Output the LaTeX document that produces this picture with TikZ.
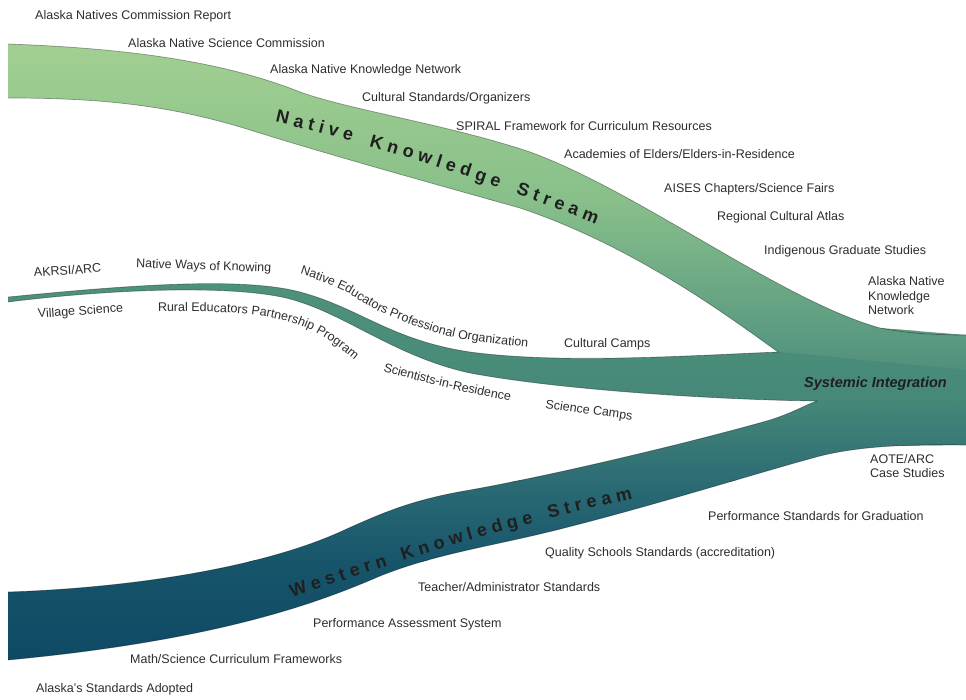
\documentclass[tikz,border=0pt]{standalone}
\usepackage{fontspec}
\setmainfont{Liberation Sans}
\usetikzlibrary{decorations.text,decorations.markings}

\definecolor{g1}{HTML}{A6D292}
\definecolor{g2}{HTML}{88BF8A}
\definecolor{g3}{HTML}{5D9C82}
\definecolor{g4}{HTML}{468878}
\definecolor{g5}{HTML}{2C6C74}
\definecolor{g6}{HTML}{17556B}
\definecolor{g7}{HTML}{0C4662}
\definecolor{m1}{HTML}{4E927C}
\definecolor{txt}{HTML}{2E2E2E}

\newcommand\lblfont{\fontsize{12.5}{14.5}\selectfont}
\newcommand\streamfillall{%
  \shade[top color=g1,bottom color=g2] (0,20) rectangle (966,201);
  \shade[top color=g2,bottom color=g3] (0,200) rectangle (966,331);
  \shade[top color=g3,bottom color=g4] (0,330) rectangle (966,401);
  \shade[top color=g4,bottom color=g5] (0,400) rectangle (966,481);
  \shade[top color=g5,bottom color=g6] (0,480) rectangle (966,561);
  \shade[top color=g6,bottom color=g7] (0,560) rectangle (966,690);
}

\def\pathNTop{(8,44) .. controls (120,48) and (220,60) .. (300,92) .. controls (350,110) and (450,125) .. (530,152) .. controls (640,192) and (780,300) .. (880,328) .. controls (910,334) and (940,335) .. (966,335)}
\def\pathNBot{(778,352) .. controls (720,310) and (630,245) .. (520,208) .. controls (420,180) and (330,155) .. (250,130) .. controls (170,105) and (100,98) .. (8,98)}
\def\pathMTop{(8,297) .. controls (120,286) and (240,276) .. (300,292) .. controls (360,308) and (390,340) .. (470,352) .. controls (560,364) and (680,356) .. (778,352)}
\def\pathMBot{(817,401) .. controls (720,400) and (560,390) .. (470,373) .. controls (400,358) and (350,318) .. (300,302) .. controls (250,284) and (120,288) .. (8,302)}
\def\pathWTop{(8,592) .. controls (130,588) and (260,568) .. (340,532) .. controls (380,514) and (410,500) .. (470,490) .. controls (560,474) and (700,440) .. (770,420) .. controls (795,412) and (805,405) .. (817,401)}
\def\pathWBot{(966,445) .. controls (910,444) and (860,446) .. (820,456) .. controls (760,472) and (640,510) .. (540,534) .. controls (480,548) and (430,556) .. (380,576) .. controls (320,602) and (220,640) .. (8,660)}

\tikzset{
  lbl/.style={font=\lblfont, text=txt, inner sep=0pt, anchor=base west},
  edgeline/.style={draw=black, draw opacity=0.35, line width=0.7pt},
  sepline/.style={draw=black!60, dotted, line width=0.5pt, draw opacity=0.7},
  ltr/.style={transform shape, anchor=base, inner sep=0pt,
    font=\bfseries\fontsize{18}{18}\selectfont, text=black!88},
  curvlbl/.style={decorate, decoration={text along path, text color=txt,
    text={|\lblfont|#1}}},
  nksmarks/.style={decoration={markings,
    mark=at position 6.5pt with {\node[ltr] {N};},
    mark=at position 23pt with {\node[ltr] {a};},
    mark=at position 36pt with {\node[ltr] {t};},
    mark=at position 46.5pt with {\node[ltr] {i};},
    mark=at position 59pt with {\node[ltr] {v};},
    mark=at position 74pt with {\node[ltr] {e};},
    mark=at position 103.5pt with {\node[ltr] {K};},
    mark=at position 120.5pt with {\node[ltr] {n};},
    mark=at position 136.5pt with {\node[ltr] {o};},
    mark=at position 154pt with {\node[ltr] {w};},
    mark=at position 168.5pt with {\node[ltr] {l};},
    mark=at position 181pt with {\node[ltr] {e};},
    mark=at position 196.5pt with {\node[ltr] {d};},
    mark=at position 212.5pt with {\node[ltr] {g};},
    mark=at position 228pt with {\node[ltr] {e};},
    mark=at position 257pt with {\node[ltr] {S};},
    mark=at position 271pt with {\node[ltr] {t};},
    mark=at position 282.5pt with {\node[ltr] {r};},
    mark=at position 296pt with {\node[ltr] {e};},
    mark=at position 311pt with {\node[ltr] {a};},
    mark=at position 329pt with {\node[ltr] {m};}}},
  wksmarks/.style={decoration={markings,
    mark=at position 8.5pt with {\node[ltr] {W};},
    mark=at position 27pt with {\node[ltr] {e};},
    mark=at position 42pt with {\node[ltr] {s};},
    mark=at position 55pt with {\node[ltr] {t};},
    mark=at position 68pt with {\node[ltr] {e};},
    mark=at position 81.5pt with {\node[ltr] {r};},
    mark=at position 95.5pt with {\node[ltr] {n};},
    mark=at position 123.5pt with {\node[ltr] {K};},
    mark=at position 140.5pt with {\node[ltr] {n};},
    mark=at position 156.5pt with {\node[ltr] {o};},
    mark=at position 174pt with {\node[ltr] {w};},
    mark=at position 188.5pt with {\node[ltr] {l};},
    mark=at position 201pt with {\node[ltr] {e};},
    mark=at position 216.5pt with {\node[ltr] {d};},
    mark=at position 232.5pt with {\node[ltr] {g};},
    mark=at position 248pt with {\node[ltr] {e};},
    mark=at position 275pt with {\node[ltr] {S};},
    mark=at position 289pt with {\node[ltr] {t};},
    mark=at position 300.5pt with {\node[ltr] {r};},
    mark=at position 314pt with {\node[ltr] {e};},
    mark=at position 329pt with {\node[ltr] {a};},
    mark=at position 347pt with {\node[ltr] {m};}}}
}

\begin{document}
\begin{tikzpicture}[x=1pt,y=-1pt]
\useasboundingbox (0,0) rectangle (966,700);
\fill[white] (0,0) rectangle (966,700);

% trunk underlay
\begin{scope}
  \clip (778,352) -- (880,328) -- (966,335) -- (966,445) -- (873,446) -- (817,401) -- cycle;
  \streamfillall
\end{scope}
% native stream
\begin{scope}
  \clip \pathNTop -- (966,370) -- \pathNBot -- cycle;
  \streamfillall
\end{scope}
% middle stream
\begin{scope}
  \clip \pathMTop -- (966,370) -- (966,405) -- \pathMBot -- cycle;
  \shade[top color=m1,bottom color=g4] (0,278) rectangle (966,406);
\end{scope}
% western stream
\begin{scope}
  \clip \pathWTop -- (966,405) -- \pathWBot -- cycle;
  \streamfillall
\end{scope}

% edges
\draw[edgeline] \pathNTop;
\draw[edgeline] \pathNBot;
\draw[edgeline] \pathMTop;
\draw[edgeline] \pathMBot;
\draw[edgeline] \pathWTop;
\draw[edgeline] \pathWBot;
\draw[sepline] (778,352) -- (966,370);
\draw[sepline] (817,401) -- (966,405);

% stream titles
\path[nksmarks, decorate] (275,122) .. controls (379,146) and (497,184) .. (596,224);
\path[wksmarks, decorate] (292,598) .. controls (400,560) and (515,524) .. (628,500);

\node[font=\bfseries\itshape\fontsize{14.5}{16}\selectfont, text=black!88, inner sep=0pt, anchor=base] (sys) at (875.5,388) {Systemic Integration};

% native labels
\node[lbl] (l1) at (35,20) {Alaska Natives Commission Report};
\node[lbl] (l2) at (128,47.5) {Alaska Native Science Commission};
\node[lbl] (l3) at (270,73.5) {Alaska Native Knowledge Network};
\node[lbl] (l4) at (362,102) {Cultural Standards/Organizers};
\node[lbl] (l5) at (456,131) {SPIRAL Framework for Curriculum Resources};
\node[lbl] (l6) at (564,159) {Academies of Elders/Elders-in-Residence};
\node[lbl] (l7) at (664,193) {AISES Chapters/Science Fairs};
\node[lbl] (l8) at (717,221) {Regional Cultural Atlas};
\node[lbl] (l9) at (764,254.5) {Indigenous Graduate Studies};
\node[lbl, align=left] (l10) at (868,315) {Alaska Native\\Knowledge\\Network};

% middle labels
\node[lbl, rotate=4] (m1) at (34,277) {AKRSI/ARC};
\node[lbl, rotate=-2] (m2) at (136,267.5) {Native Ways of Knowing};
\node[lbl, rotate=4] (m3) at (38,318) {Village Science};
\path[curvlbl={Rural Educators Partnership Program}] (158,312) .. controls (215,311) and (255,312) .. (290,322) .. controls (320,331) and (345,350) .. (372,376);
\path[curvlbl={Native Educators Professional Organization}] plot[smooth, tension=0.6] coordinates {(300,274) (340,289) (387,315) (457,338) (548,349)};
\path[curvlbl={Scientists-in-Residence}] (383,371) .. controls (420,382) and (470,394) .. (525,404);
\node[lbl] (m4) at (564,348) {Cultural Camps};
\node[lbl, rotate=-8] (m5) at (545,408) {Science Camps};

% western labels
\node[lbl, align=left] (w1) at (870,477.5) {AOTE/ARC\\Case Studies};
\node[lbl] (w2) at (708,520) {Performance Standards for Graduation};
\node[lbl] (w3) at (545,556) {Quality Schools Standards (accreditation)};
\node[lbl] (w4) at (418,591) {Teacher/Administrator Standards};
\node[lbl] (w5) at (313,627) {Performance Assessment System};
\node[lbl] (w6) at (130,663) {Math/Science Curriculum Frameworks};
\node[lbl] (w7) at (36,692.5) {Alaska's Standards Adopted};
\end{tikzpicture}
\end{document}
